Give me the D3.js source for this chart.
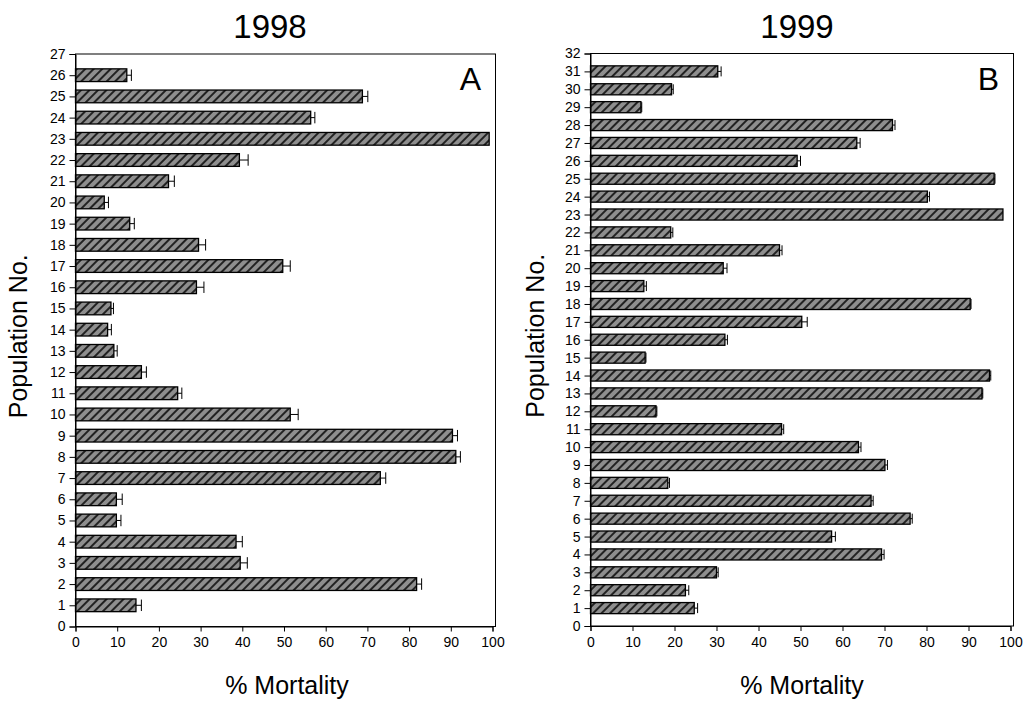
<!DOCTYPE html>
<html>
<head>
<meta charset="utf-8">
<script src="https://cdn.jsdelivr.net/npm/d3@7/dist/d3.min.js"></script>
<style>
  body { margin: 0; background: #fff; }
  svg { display: block; font-family: "Liberation Sans", Arial, sans-serif; }
</style>
</head>
<body>
<svg id="chart" width="1030" height="701"></svg>
<script>
'use strict';

// population numbers + % mortality
const pops1998 = d3.range(1, 27);
const mort1998 = [14.5, 81.8, 39.5, 38.5, 9.8, 9.8, 73.1, 91.2, 90.4, 51.5,
                  24.5, 15.8, 9.2, 7.7, 8.5, 29.0, 49.7, 29.5, 13.0, 6.9,
                  22.3, 39.3, 99.2, 56.4, 68.8, 12.3];
const err1998  = [1.3, 1.2, 1.7, 1.5, 1.1, 1.4, 1.3, 1.1, 1.2, 1.9,
                  1.0, 1.2, 0.8, 0.9, 0.6, 1.8, 1.8, 1.7, 1.1, 1.0,
                  1.4, 2.1, 0, 1.0, 1.3, 1.1];

const pops1999 = d3.range(1, 32);
const mort1999 = [24.7, 22.6, 30.0, 69.3, 57.4, 76.1, 66.8, 18.4, 70.1, 63.8,
                  45.5, 15.6, 93.2, 95.0, 13.0, 32.0, 50.3, 90.4, 12.7, 31.6,
                  45.0, 19.1, 98.2, 80.2, 96.1, 49.2, 63.4, 71.9, 12.0, 19.3, 30.3];
const err1999  = [0.8, 0.8, 0.4, 0.6, 0.9, 0.5, 0.5, 0.4, 0.6, 0.6,
                  0.5, 0.2, 0.2, 0.3, 0.2, 0.6, 1.3, 0.2, 0.6, 0.9,
                  0.6, 0.5, 0, 0.5, 0.2, 0.8, 0.8, 0.6, 0.2, 0.4, 0.8];

const xTicks = d3.range(0, 101, 10);

let svg = d3.select('#chart');

// hatched grey fill like the original print
let defs = svg.append('defs');
let pat = defs.append('pattern')
    .attr('id', 'hatch')
    .attr('patternUnits', 'userSpaceOnUse')
    .attr('width', 6).attr('height', 6)
    .attr('patternTransform', 'rotate(45)');
pat.append('rect').attr('width', 6).attr('height', 6).attr('fill', '#8e8e8e');
pat.append('rect').attr('x', 0).attr('width', 2).attr('height', 6).attr('fill', '#222');

function drawPanel(opts) {
    let g = svg.append('g');
    let x = d3.scaleLinear().domain([0, 100]).range([opts.left, opts.right]);
    let y = d3.scaleLinear().domain([0, opts.yMax]).range([opts.bottom, opts.top]);
    let step = y(0) - y(1);
    let bh = step * opts.band;

    // frame
    g.append('rect')
        .attr('x', opts.left).attr('y', opts.top)
        .attr('width', opts.right + 3 - opts.left).attr('height', opts.bottom - opts.top)
        .attr('fill', 'none').attr('stroke', '#000').attr('stroke-width', 1);

    let data = opts.pops.map((p, i) => ({p: p, v: opts.vals[i], e: opts.errs[i]}));

    g.selectAll('rect.bar').data(data).enter().append('rect')
        .attr('class', 'bar')
        .attr('x', x(0))
        .attr('y', d => y(d.p) - bh / 2)
        .attr('width', d => x(d.v) - x(0))
        .attr('height', bh)
        .attr('fill', 'url(#hatch)')
        .attr('stroke', '#000').attr('stroke-width', 1.3);

    // error bars
    let eb = g.selectAll('g.err').data(data.filter(d => d.e > 0)).enter().append('g')
        .attr('stroke', '#000').attr('stroke-width', 1);
    eb.append('line')
        .attr('x1', d => x(d.v)).attr('x2', d => x(d.v + d.e))
        .attr('y1', d => y(d.p)).attr('y2', d => y(d.p));
    eb.append('line')
        .attr('x1', d => x(d.v + d.e)).attr('x2', d => x(d.v + d.e))
        .attr('y1', d => y(d.p) - bh * 0.45).attr('y2', d => y(d.p) + bh * 0.45);

    let yAxis = g.append('g')
        .attr('transform', `translate(${opts.left},0)`)
        .call(d3.axisLeft(y).tickValues(d3.range(0, opts.yMax + 1)).tickSize(6).tickPadding(4).tickFormat(d3.format('d')));
    let xAxis = g.append('g')
        .attr('transform', `translate(0,${opts.bottom})`)
        .call(d3.axisBottom(x).tickValues(xTicks).tickSize(5).tickPadding(6).tickFormat(d3.format('d')));
    [yAxis, xAxis].forEach(a => {
        a.select('.domain').attr('stroke', '#000');
        a.selectAll('.tick line').attr('stroke', '#000');
        a.selectAll('text').attr('font-size', 14).attr('fill', '#000')
            .attr('font-family', '"Liberation Sans", Arial, sans-serif');
    });

    g.append('text')
        .attr('x', opts.titleX).attr('y', 38)
        .attr('text-anchor', 'middle').attr('font-size', 33)
        .text(opts.title);
    g.append('text')
        .attr('x', opts.right - 22).attr('y', 90)
        .attr('text-anchor', 'middle').attr('font-size', 32)
        .text(opts.letter);
    g.append('text')
        .attr('x', opts.labelXc).attr('y', 694)
        .attr('text-anchor', 'middle').attr('font-size', 25)
        .text('% Mortality');
    g.append('text')
        .attr('transform', `translate(${opts.labelY},${(opts.top + opts.bottom) / 2 - 4}) rotate(-90)`)
        .attr('text-anchor', 'middle').attr('font-size', 25)
        .text('Population No.');
}

drawPanel({
    title: '1998', letter: 'A', titleX: 270, labelXc: 287,
    pops: pops1998, vals: mort1998, errs: err1998,
    yMax: 27, left: 75.5, right: 492.5, top: 54, bottom: 626.5,
    band: 0.6, labelY: 27
});

drawPanel({
    title: '1999', letter: 'B', titleX: 797, labelXc: 802,
    pops: pops1999, vals: mort1999, errs: err1999,
    yMax: 32, left: 590.5, right: 1010.5, top: 53.5, bottom: 626,
    band: 0.62, labelY: 544
});
</script>
</body>
</html>
